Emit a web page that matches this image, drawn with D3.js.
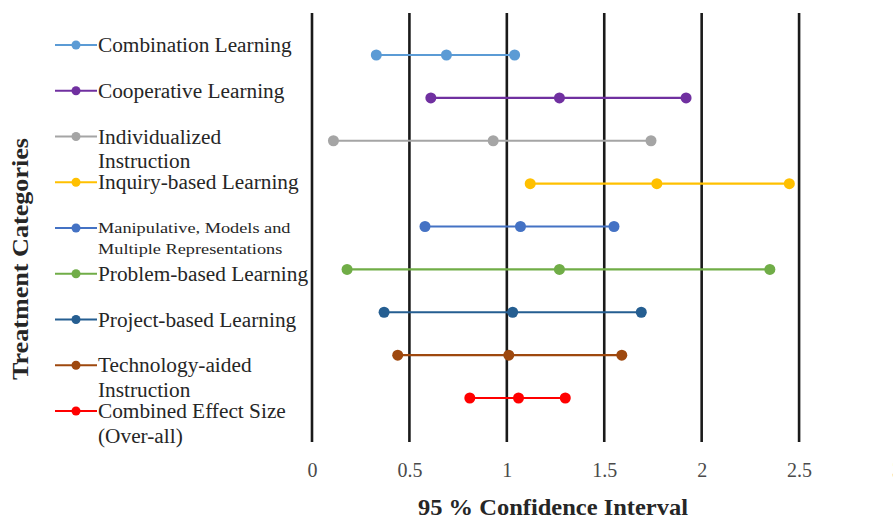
<!DOCTYPE html>
<html><head><meta charset="utf-8">
<script src="https://cdn.jsdelivr.net/npm/d3@7"></script>
<style>body{margin:0;background:#fff;}svg{display:block;font-family:"Liberation Serif","Times New Roman",serif;}</style>
</head><body><svg id="c" width="893" height="519"></svg>
<script>
const categories = ["Combination Learning","Cooperative Learning","Individualized Instruction","Inquiry-based Learning","Manipulative, Models and Multiple Representations","Problem-based Learning","Project-based Learning","Technology-aided Instruction","Combined Effect Size (Over-all)"];
const lowerCI = [0.33,0.61,0.11,1.12,0.58,0.18,0.37,0.44,0.81];
const effect  = [0.69,1.27,0.93,1.77,1.07,1.27,1.03,1.01,1.06];
const upperCI = [1.04,1.92,1.74,2.45,1.55,2.35,1.69,1.59,1.30];
const colors  = ["#5B9BD5","#7030A0","#A5A5A5","#FFC000","#4472C4","#70AD47","#255E91","#9E480E","#FF0000"];
const legendLines = [["Combination Learning"],["Cooperative Learning"],["Individualized","Instruction"],["Inquiry-based Learning"],["Manipulative, Models and","Multiple Representations"],["Problem-based Learning"],["Project-based Learning"],["Technology-aided","Instruction"],["Combined Effect Size","(Over-all)"]];
const xTicks = [0,0.5,1,1.5,2,2.5,3];

const svg = d3.select("#c");
const x = d3.scaleLinear().domain([0,3]).range([312,896.5]);
const y = d3.scalePoint().domain(categories).range([55,398]);
const plotTop = 13, plotBottom = 442;

// gridlines
svg.append("g").selectAll("line").data(xTicks).join("line")
  .attr("x1",d=>x(d)).attr("x2",d=>x(d)).attr("y1",plotTop).attr("y2",plotBottom)
  .attr("stroke","#1a1a1a").attr("stroke-width",2.6);

// axis labels
const ax = svg.append("g").attr("transform",`translate(0,${plotBottom})`)
  .call(d3.axisBottom(x).tickValues(xTicks).tickFormat(d=>String(d)).tickSize(0).tickPadding(21));
ax.select(".domain").remove();
ax.attr("font-family","Liberation Serif").attr("font-size",20);
ax.selectAll("text").attr("fill","#4a4a4a");

// series
const rows = categories.map((c,i)=>({c,i,lo:lowerCI[i],es:effect[i],hi:upperCI[i],col:colors[i]}));
const g = svg.append("g");
rows.forEach(r=>{
  g.append("line").attr("x1",x(r.lo)).attr("x2",x(r.hi)).attr("y1",y(r.c)).attr("y2",y(r.c))
    .attr("stroke",r.col).attr("stroke-width",2.2);
  g.selectAll(null).data([r.lo,r.es,r.hi]).join("circle")
    .attr("cx",d=>x(d)).attr("cy",y(r.c)).attr("r",5.5).attr("fill",r.col);
});

// legend
const ly = d3.scalePoint().domain(categories).range([45,411]);
const lg = svg.append("g");
rows.forEach(r=>{
  const yy = ly(r.c);
  lg.append("line").attr("x1",55).attr("x2",97).attr("y1",yy).attr("y2",yy).attr("stroke",r.col).attr("stroke-width",2.2);
  lg.append("circle").attr("cx",76).attr("cy",yy).attr("r",4.5).attr("fill",r.col);
  const lines = legendLines[r.i];
  const small = r.i===4;
  const fs = small?15:20.5;
  const lh = small?21:25;
  const sx = small?1.22:1.04;
  const tg = lg.append("g").attr("transform",`translate(98,${yy}) scale(${sx},1)`);
  lines.forEach((t,k)=>{
    tg.append("text").attr("x",0).attr("y",(small?5:7)+k*lh).attr("font-size",fs).attr("fill","#262626").text(t);
  });
});

// axis titles
svg.append("text").attr("x",553).attr("y",515).attr("text-anchor","middle")
  .attr("font-weight","bold").attr("font-size",23).attr("fill","#262626")
  .attr("textLength",270).attr("lengthAdjust","spacingAndGlyphs").text("95 % Confidence Interval");
svg.append("text").attr("transform","translate(28,259) rotate(-90)").attr("text-anchor","middle")
  .attr("font-weight","bold").attr("font-size",23).attr("fill","#262626")
  .attr("textLength",242).attr("lengthAdjust","spacingAndGlyphs").text("Treatment Categories");
</script></body></html>
